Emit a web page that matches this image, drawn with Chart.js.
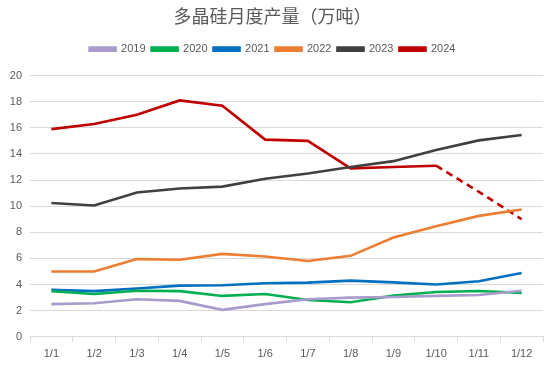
<!DOCTYPE html>
<html><head><meta charset="utf-8">
<script src="https://cdn.jsdelivr.net/npm/chart.js@4/dist/chart.umd.min.js"></script>
<style>html,body{margin:0;padding:0;background:#fff}#wrap{width:550px;height:367px}</style>
</head><body><div id="wrap"><canvas id="c" width="550" height="367"></canvas></div>
<script>
const categories = ['1/1','1/2','1/3','1/4','1/5','1/6','1/7','1/8','1/9','1/10','1/11','1/12'];
const seriesNames = ['2019','2020','2021','2022','2023','2024'];
const v2019 = [2.5,2.57,2.88,2.75,2.06,2.5,2.88,3.0,3.05,3.13,3.2,3.53];
const v2020 = [3.49,3.28,3.53,3.5,3.13,3.28,2.82,2.65,3.15,3.43,3.51,3.36];
const v2021 = [3.59,3.5,3.7,3.92,3.95,4.1,4.15,4.3,4.17,4.0,4.25,4.88];
const v2022 = [5.0,5.0,5.95,5.9,6.35,6.15,5.8,6.2,7.6,8.47,9.26,9.75];
const v2023 = [10.25,10.05,11.05,11.35,11.5,12.1,12.5,13.0,13.45,14.3,15.04,15.45];
const v2024 = [15.9,16.3,17.0,18.1,17.7,15.1,15.0,12.9,13.0,13.1,11.1,9.0];
const forecastFrom = 9; // index from which 2024 is dashed
const colors = ['#A99BCB','#00B050','#0070C0','#ED7D31','#404040','#C00000'];
const allValues = [v2019,v2020,v2021,v2022,v2023,v2024];

const datasets = allValues.map((d,i)=>({
  label: seriesNames[i],
  data: d,
  borderColor: colors[i],
  backgroundColor: colors[i],
  borderWidth: 2.6,
  pointRadius: 0,
  pointHoverRadius: 0,
  tension: 0,
  fill: false,
  segment: i===5 ? { borderDash: ctx => ctx.p0DataIndex >= forecastFrom ? [7,5] : undefined } : undefined
}));

new Chart(document.getElementById('c'), {
  type: 'line',
  data: { labels: categories, datasets },
  options: {
    responsive: false,
    animation: false,
    layout: { padding: { left: 2, right: 7, top: 3, bottom: 0 } },
    plugins: {
      title: { display: true, text: '多晶硅月度产量（万吨）', color: '#595959',
        font: { family: '"Noto Sans CJK SC", sans-serif', size: 18, weight: 'normal' },
        padding: { top: 2, bottom: 11 } },
      legend: { display: true, position: 'top',
        labels: { color: '#595959', font: { family: '"Liberation Sans", sans-serif', size: 11 },
          boxWidth: 26, boxHeight: 3, padding: 6, useBorderRadius: false } },
      tooltip: { enabled: false }
    },
    scales: {
      x: {
        offset: true,
        grid: { offset: true, drawOnChartArea: false, drawTicks: true, tickLength: 5, color: '#D9D9D9' },
        border: { display: true, color: '#D9D9D9' },
        ticks: { color: '#595959', font: { family: '"Liberation Sans", sans-serif', size: 11 }, padding: 6, maxRotation: 0, autoSkip: false }
      },
      y: {
        min: 0, max: 20,
        afterFit: s => { s.width = 28; },
        ticks: { stepSize: 2, color: '#595959', font: { family: '"Liberation Sans", sans-serif', size: 11 }, padding: 8 },
        grid: { color: '#D9D9D9', drawTicks: false },
        border: { display: false }
      }
    }
  },
  plugins: [{ id: 'legendGap', beforeLayout(chart){
    const lg = chart.legend;
    if (lg && !lg._patched) {
      const orig = lg.fit.bind(lg);
      lg.fit = function(){ orig(); this.height += 11; };
      lg._patched = true;
    }
  } }]
});
</script></body></html>
